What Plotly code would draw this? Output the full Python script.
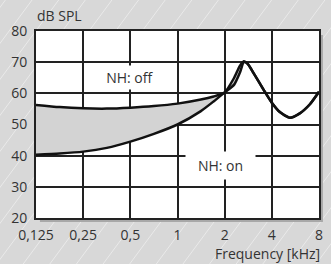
import numpy as np
import plotly.graph_objects as go

# ---- data ----
freq_khz = [0.125, 0.177, 0.25, 0.354, 0.5, 0.707, 1.0, 1.41, 1.7, 2.0,
            2.3, 2.5, 2.65, 2.8, 3.1, 3.54, 4.0, 4.5, 5.2, 6.0, 7.0, 8.0]
nh_off = [56.3, 55.6, 55.2, 55.1, 55.4, 55.9, 56.7, 58.0, 59.0, 60.3,
          65.0, 68.8, 70.3, 69.5, 66.0, 61.2, 57.0, 54.0, 52.2, 53.5, 56.5, 60.5]
nh_on = [40.3, 40.7, 41.3, 42.5, 44.5, 47.0, 50.0, 54.3, 57.4, 60.3,
         62.8, 66.6, 70.0, 69.5, 66.0, 61.2, 57.0, 54.0, 52.2, 53.5, 56.5, 60.5]
tick_vals = [0.125, 0.25, 0.5, 1, 2, 4, 8]
tick_text = ["0,125", "0,25", "0,5", "1", "2", "4", "8"]
y_ticks = [20, 30, 40, 50, 60, 70, 80]

W, H = 331, 264
L, R, T, B = 36, 8, 31, 46
pw, ph = W - L - R, H - T - B

def px(x):
    return (x - L) / pw

def py(y):
    return (H - B - y) / ph

FONT = "Open Sans"
TXT = "#333333"

fig = go.Figure()
fig.add_trace(go.Scatter(x=freq_khz, y=nh_on, mode="lines", line=dict(color="#111111", width=2.5, shape="spline", smoothing=0.6),
                         showlegend=False, hoverinfo="skip"))
fig.add_trace(go.Scatter(x=freq_khz, y=nh_off, mode="lines", line=dict(color="#111111", width=2.5, shape="spline", smoothing=0.6),
                         fill="tonexty", fillcolor="#d3d3d3", showlegend=False, hoverinfo="skip"))

shapes = []
# faint diagonal background hatch
for x0 in range(-220, 340, 27):
    shapes.append(dict(type="line", xref="paper", yref="paper", layer="below",
                       x0=px(x0), y0=py(H), x1=px(x0 + 198), y1=py(0),
                       line=dict(color="rgba(255,255,255,0.45)", width=1)))
# shadow
shapes.append(dict(type="rect", xref="paper", yref="paper", layer="below",
                   x0=px(L + 4), x1=px(W - R + 4), y0=py(H - B + 4), y1=py(T + 4),
                   fillcolor="#a8a8a8", line=dict(width=0)))
# white plot area
shapes.append(dict(type="rect", xref="paper", yref="paper", layer="below",
                   x0=0, x1=1, y0=0, y1=1, fillcolor="white", line=dict(width=0)))

annotations = [
    dict(text="dB SPL", xref="paper", yref="paper", x=px(35), y=py(16), xanchor="left", yanchor="middle",
         showarrow=False, font=dict(family=FONT, size=14, color=TXT)),
    dict(text="Frequency [kHz]", xref="paper", yref="paper", x=px(326), y=py(254), xanchor="right", yanchor="middle",
         showarrow=False, font=dict(family=FONT, size=14, color=TXT)),
    dict(text="NH: off", xref="x", yref="y", x=np.log10(0.5), y=65.2, showarrow=False,
         width=66, height=23, bgcolor="white", borderpad=0,
         font=dict(family=FONT, size=14, color=TXT)),
    dict(text="NH: on", xref="x", yref="y", x=np.log10(1.88), y=36.8, showarrow=False,
         width=69, height=27, bgcolor="white", borderpad=0,
         font=dict(family=FONT, size=14, color=TXT)),
]

fig.update_layout(
    width=W, height=H,
    margin=dict(l=L, r=R, t=T, b=B),
    paper_bgcolor="#d8d8d8",
    plot_bgcolor="rgba(0,0,0,0)",
    shapes=shapes,
    annotations=annotations,
    font=dict(family=FONT, size=14, color=TXT),
)
fig.update_xaxes(type="log", range=[np.log10(0.125), np.log10(8)], tickvals=tick_vals, ticktext=tick_text,
                 showgrid=True, gridcolor="#222222", gridwidth=2, zeroline=False,
                 showline=True, mirror=True, linecolor="#222222", linewidth=2,
                 ticks="outside", ticklen=3, tickcolor="rgba(0,0,0,0)",
                 tickfont=dict(family=FONT, size=14, color=TXT))
fig.update_yaxes(range=[20, 80], tickvals=y_ticks,
                 showgrid=True, gridcolor="#222222", gridwidth=2, zeroline=False,
                 showline=True, mirror=True, linecolor="#222222", linewidth=2,
                 ticks="outside", ticklen=4, tickcolor="rgba(0,0,0,0)",
                 tickfont=dict(family=FONT, size=14, color=TXT))

fig.write_html("out.html", config={"displayModeBar": False},
               post_script="document.body.style.margin='0';document.body.style.overflow='hidden';")
